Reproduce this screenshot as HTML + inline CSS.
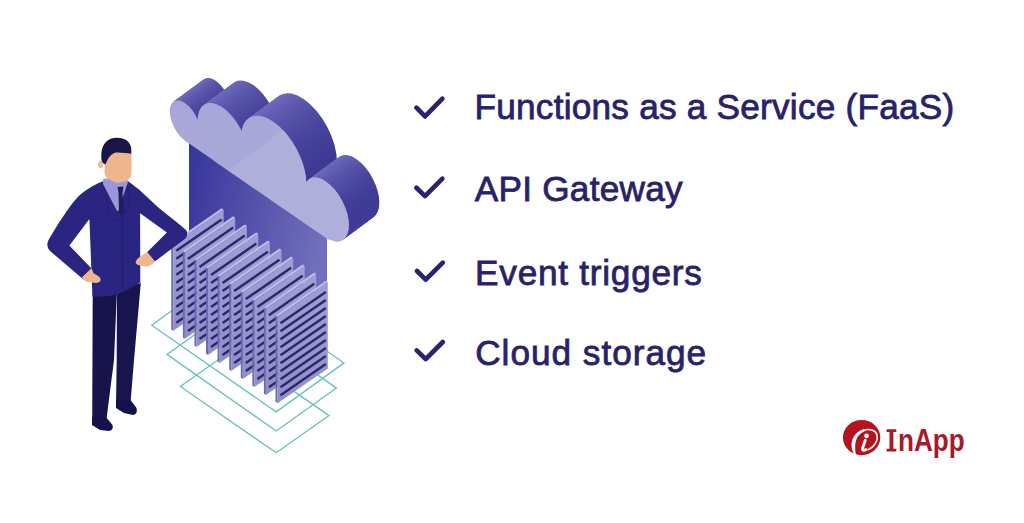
<!DOCTYPE html>
<html><head><meta charset="utf-8">
<style>
html,body{margin:0;padding:0;background:#fff;}
body{width:1024px;height:523px;overflow:hidden;position:relative;font-family:"Liberation Sans",sans-serif;}
.t{position:absolute;left:475px;font-weight:normal;font-size:35.2px;line-height:35px;color:#28226a;-webkit-text-stroke:0.8px #28226a;white-space:nowrap;}
#art{position:absolute;left:0;top:0;}
.logo{position:absolute;left:898.2px;top:425.3px;font-weight:bold;font-size:31.8px;line-height:31px;color:#a8192a;white-space:nowrap;transform-origin:0 0;transform:scaleX(0.82);}
</style></head><body>
<svg id="art" width="1024" height="523" viewBox="0 0 1024 523"><defs><linearGradient id="g1" gradientUnits="userSpaceOnUse" x1="-1.5" y1="0" x2="36.1" y2="0"><stop offset="0" stop-color="#7773c1"/><stop offset="0.45" stop-color="#5e5aaf"/><stop offset="1" stop-color="#3d3994"/></linearGradient><linearGradient id="g2" gradientUnits="userSpaceOnUse" x1="32.3" y1="0" x2="93.9" y2="0"><stop offset="0" stop-color="#7773c1"/><stop offset="0.45" stop-color="#5e5aaf"/><stop offset="1" stop-color="#3d3994"/></linearGradient><linearGradient id="g3" gradientUnits="userSpaceOnUse" x1="84.8" y1="0" x2="165.2" y2="0"><stop offset="0" stop-color="#7773c1"/><stop offset="0.45" stop-color="#5e5aaf"/><stop offset="1" stop-color="#3d3994"/></linearGradient><linearGradient id="g4" gradientUnits="userSpaceOnUse" x1="161.29999999999998" y1="0" x2="216.9" y2="0"><stop offset="0" stop-color="#7773c1"/><stop offset="0.45" stop-color="#5e5aaf"/><stop offset="1" stop-color="#3d3994"/></linearGradient><linearGradient id="stem" x1="0" y1="0" x2="1" y2="0.3"><stop offset="0" stop-color="#37349b"/><stop offset="1" stop-color="#716ebb"/></linearGradient><linearGradient id="slabg" x1="0" y1="0" x2="0" y2="1"><stop offset="0" stop-color="#a09ed5"/><stop offset="1" stop-color="#908ec9"/></linearGradient><clipPath id="crease"><polygon points="228.6,170.7 280.2,132 420,20 420,300 228.6,300"/></clipPath><clipPath id="tclip"><rect x="-20" y="-200" width="300" height="200"/></clipPath></defs><polygon points="151.7,325.3 276.2,411.9 344,362.9 219.5,276.3" fill="none" stroke="#66c4bd" stroke-width="1.35"/><polygon points="167,354.4 276.2,431 336.4,388.1 227.2,311.5" fill="none" stroke="#66c4bd" stroke-width="1.35"/><polygon points="180.4,386.5 276.2,452.8 329,415.6 233.2,349.3" fill="none" stroke="#66c4bd" stroke-width="1.35"/><polygon points="189,140 327,215 327,360 189,320" fill="url(#stem)"/><g transform="translate(30.50 -22.50) matrix(0.82 0.566 0 1 171 131)"><circle cx="17.3" cy="-18.8" r="18.8" fill="url(#g1)" clip-path="url(#tclip)"/><circle cx="63.1" cy="-28.4" r="30.8" fill="url(#g2)" clip-path="url(#tclip)"/><circle cx="125.0" cy="-39.9" r="40.2" fill="url(#g3)" clip-path="url(#tclip)"/><circle cx="189.1" cy="-28.6" r="27.8" fill="url(#g4)" clip-path="url(#tclip)"/><rect x="17.3" y="-26" width="175" height="26" fill="url(#g3)"/></g><g transform="translate(29.74 -21.94) matrix(0.82 0.566 0 1 171 131)"><circle cx="17.3" cy="-18.8" r="18.8" fill="url(#g1)" clip-path="url(#tclip)"/><circle cx="63.1" cy="-28.4" r="30.8" fill="url(#g2)" clip-path="url(#tclip)"/><circle cx="125.0" cy="-39.9" r="40.2" fill="url(#g3)" clip-path="url(#tclip)"/><circle cx="189.1" cy="-28.6" r="27.8" fill="url(#g4)" clip-path="url(#tclip)"/><rect x="17.3" y="-26" width="175" height="26" fill="url(#g3)"/></g><g transform="translate(28.98 -21.38) matrix(0.82 0.566 0 1 171 131)"><circle cx="17.3" cy="-18.8" r="18.8" fill="url(#g1)" clip-path="url(#tclip)"/><circle cx="63.1" cy="-28.4" r="30.8" fill="url(#g2)" clip-path="url(#tclip)"/><circle cx="125.0" cy="-39.9" r="40.2" fill="url(#g3)" clip-path="url(#tclip)"/><circle cx="189.1" cy="-28.6" r="27.8" fill="url(#g4)" clip-path="url(#tclip)"/><rect x="17.3" y="-26" width="175" height="26" fill="url(#g3)"/></g><g transform="translate(28.21 -20.81) matrix(0.82 0.566 0 1 171 131)"><circle cx="17.3" cy="-18.8" r="18.8" fill="url(#g1)" clip-path="url(#tclip)"/><circle cx="63.1" cy="-28.4" r="30.8" fill="url(#g2)" clip-path="url(#tclip)"/><circle cx="125.0" cy="-39.9" r="40.2" fill="url(#g3)" clip-path="url(#tclip)"/><circle cx="189.1" cy="-28.6" r="27.8" fill="url(#g4)" clip-path="url(#tclip)"/><rect x="17.3" y="-26" width="175" height="26" fill="url(#g3)"/></g><g transform="translate(27.45 -20.25) matrix(0.82 0.566 0 1 171 131)"><circle cx="17.3" cy="-18.8" r="18.8" fill="url(#g1)" clip-path="url(#tclip)"/><circle cx="63.1" cy="-28.4" r="30.8" fill="url(#g2)" clip-path="url(#tclip)"/><circle cx="125.0" cy="-39.9" r="40.2" fill="url(#g3)" clip-path="url(#tclip)"/><circle cx="189.1" cy="-28.6" r="27.8" fill="url(#g4)" clip-path="url(#tclip)"/><rect x="17.3" y="-26" width="175" height="26" fill="url(#g3)"/></g><g transform="translate(26.69 -19.69) matrix(0.82 0.566 0 1 171 131)"><circle cx="17.3" cy="-18.8" r="18.8" fill="url(#g1)" clip-path="url(#tclip)"/><circle cx="63.1" cy="-28.4" r="30.8" fill="url(#g2)" clip-path="url(#tclip)"/><circle cx="125.0" cy="-39.9" r="40.2" fill="url(#g3)" clip-path="url(#tclip)"/><circle cx="189.1" cy="-28.6" r="27.8" fill="url(#g4)" clip-path="url(#tclip)"/><rect x="17.3" y="-26" width="175" height="26" fill="url(#g3)"/></g><g transform="translate(25.93 -19.12) matrix(0.82 0.566 0 1 171 131)"><circle cx="17.3" cy="-18.8" r="18.8" fill="url(#g1)" clip-path="url(#tclip)"/><circle cx="63.1" cy="-28.4" r="30.8" fill="url(#g2)" clip-path="url(#tclip)"/><circle cx="125.0" cy="-39.9" r="40.2" fill="url(#g3)" clip-path="url(#tclip)"/><circle cx="189.1" cy="-28.6" r="27.8" fill="url(#g4)" clip-path="url(#tclip)"/><rect x="17.3" y="-26" width="175" height="26" fill="url(#g3)"/></g><g transform="translate(25.16 -18.56) matrix(0.82 0.566 0 1 171 131)"><circle cx="17.3" cy="-18.8" r="18.8" fill="url(#g1)" clip-path="url(#tclip)"/><circle cx="63.1" cy="-28.4" r="30.8" fill="url(#g2)" clip-path="url(#tclip)"/><circle cx="125.0" cy="-39.9" r="40.2" fill="url(#g3)" clip-path="url(#tclip)"/><circle cx="189.1" cy="-28.6" r="27.8" fill="url(#g4)" clip-path="url(#tclip)"/><rect x="17.3" y="-26" width="175" height="26" fill="url(#g3)"/></g><g transform="translate(24.40 -18.00) matrix(0.82 0.566 0 1 171 131)"><circle cx="17.3" cy="-18.8" r="18.8" fill="url(#g1)" clip-path="url(#tclip)"/><circle cx="63.1" cy="-28.4" r="30.8" fill="url(#g2)" clip-path="url(#tclip)"/><circle cx="125.0" cy="-39.9" r="40.2" fill="url(#g3)" clip-path="url(#tclip)"/><circle cx="189.1" cy="-28.6" r="27.8" fill="url(#g4)" clip-path="url(#tclip)"/><rect x="17.3" y="-26" width="175" height="26" fill="url(#g3)"/></g><g transform="translate(23.64 -17.44) matrix(0.82 0.566 0 1 171 131)"><circle cx="17.3" cy="-18.8" r="18.8" fill="url(#g1)" clip-path="url(#tclip)"/><circle cx="63.1" cy="-28.4" r="30.8" fill="url(#g2)" clip-path="url(#tclip)"/><circle cx="125.0" cy="-39.9" r="40.2" fill="url(#g3)" clip-path="url(#tclip)"/><circle cx="189.1" cy="-28.6" r="27.8" fill="url(#g4)" clip-path="url(#tclip)"/><rect x="17.3" y="-26" width="175" height="26" fill="url(#g3)"/></g><g transform="translate(22.88 -16.88) matrix(0.82 0.566 0 1 171 131)"><circle cx="17.3" cy="-18.8" r="18.8" fill="url(#g1)" clip-path="url(#tclip)"/><circle cx="63.1" cy="-28.4" r="30.8" fill="url(#g2)" clip-path="url(#tclip)"/><circle cx="125.0" cy="-39.9" r="40.2" fill="url(#g3)" clip-path="url(#tclip)"/><circle cx="189.1" cy="-28.6" r="27.8" fill="url(#g4)" clip-path="url(#tclip)"/><rect x="17.3" y="-26" width="175" height="26" fill="url(#g3)"/></g><g transform="translate(22.11 -16.31) matrix(0.82 0.566 0 1 171 131)"><circle cx="17.3" cy="-18.8" r="18.8" fill="url(#g1)" clip-path="url(#tclip)"/><circle cx="63.1" cy="-28.4" r="30.8" fill="url(#g2)" clip-path="url(#tclip)"/><circle cx="125.0" cy="-39.9" r="40.2" fill="url(#g3)" clip-path="url(#tclip)"/><circle cx="189.1" cy="-28.6" r="27.8" fill="url(#g4)" clip-path="url(#tclip)"/><rect x="17.3" y="-26" width="175" height="26" fill="url(#g3)"/></g><g transform="translate(21.35 -15.75) matrix(0.82 0.566 0 1 171 131)"><circle cx="17.3" cy="-18.8" r="18.8" fill="url(#g1)" clip-path="url(#tclip)"/><circle cx="63.1" cy="-28.4" r="30.8" fill="url(#g2)" clip-path="url(#tclip)"/><circle cx="125.0" cy="-39.9" r="40.2" fill="url(#g3)" clip-path="url(#tclip)"/><circle cx="189.1" cy="-28.6" r="27.8" fill="url(#g4)" clip-path="url(#tclip)"/><rect x="17.3" y="-26" width="175" height="26" fill="url(#g3)"/></g><g transform="translate(20.59 -15.19) matrix(0.82 0.566 0 1 171 131)"><circle cx="17.3" cy="-18.8" r="18.8" fill="url(#g1)" clip-path="url(#tclip)"/><circle cx="63.1" cy="-28.4" r="30.8" fill="url(#g2)" clip-path="url(#tclip)"/><circle cx="125.0" cy="-39.9" r="40.2" fill="url(#g3)" clip-path="url(#tclip)"/><circle cx="189.1" cy="-28.6" r="27.8" fill="url(#g4)" clip-path="url(#tclip)"/><rect x="17.3" y="-26" width="175" height="26" fill="url(#g3)"/></g><g transform="translate(19.82 -14.62) matrix(0.82 0.566 0 1 171 131)"><circle cx="17.3" cy="-18.8" r="18.8" fill="url(#g1)" clip-path="url(#tclip)"/><circle cx="63.1" cy="-28.4" r="30.8" fill="url(#g2)" clip-path="url(#tclip)"/><circle cx="125.0" cy="-39.9" r="40.2" fill="url(#g3)" clip-path="url(#tclip)"/><circle cx="189.1" cy="-28.6" r="27.8" fill="url(#g4)" clip-path="url(#tclip)"/><rect x="17.3" y="-26" width="175" height="26" fill="url(#g3)"/></g><g transform="translate(19.06 -14.06) matrix(0.82 0.566 0 1 171 131)"><circle cx="17.3" cy="-18.8" r="18.8" fill="url(#g1)" clip-path="url(#tclip)"/><circle cx="63.1" cy="-28.4" r="30.8" fill="url(#g2)" clip-path="url(#tclip)"/><circle cx="125.0" cy="-39.9" r="40.2" fill="url(#g3)" clip-path="url(#tclip)"/><circle cx="189.1" cy="-28.6" r="27.8" fill="url(#g4)" clip-path="url(#tclip)"/><rect x="17.3" y="-26" width="175" height="26" fill="url(#g3)"/></g><g transform="translate(18.30 -13.50) matrix(0.82 0.566 0 1 171 131)"><circle cx="17.3" cy="-18.8" r="18.8" fill="url(#g1)" clip-path="url(#tclip)"/><circle cx="63.1" cy="-28.4" r="30.8" fill="url(#g2)" clip-path="url(#tclip)"/><circle cx="125.0" cy="-39.9" r="40.2" fill="url(#g3)" clip-path="url(#tclip)"/><circle cx="189.1" cy="-28.6" r="27.8" fill="url(#g4)" clip-path="url(#tclip)"/><rect x="17.3" y="-26" width="175" height="26" fill="url(#g3)"/></g><g transform="translate(17.54 -12.94) matrix(0.82 0.566 0 1 171 131)"><circle cx="17.3" cy="-18.8" r="18.8" fill="url(#g1)" clip-path="url(#tclip)"/><circle cx="63.1" cy="-28.4" r="30.8" fill="url(#g2)" clip-path="url(#tclip)"/><circle cx="125.0" cy="-39.9" r="40.2" fill="url(#g3)" clip-path="url(#tclip)"/><circle cx="189.1" cy="-28.6" r="27.8" fill="url(#g4)" clip-path="url(#tclip)"/><rect x="17.3" y="-26" width="175" height="26" fill="url(#g3)"/></g><g transform="translate(16.77 -12.38) matrix(0.82 0.566 0 1 171 131)"><circle cx="17.3" cy="-18.8" r="18.8" fill="url(#g1)" clip-path="url(#tclip)"/><circle cx="63.1" cy="-28.4" r="30.8" fill="url(#g2)" clip-path="url(#tclip)"/><circle cx="125.0" cy="-39.9" r="40.2" fill="url(#g3)" clip-path="url(#tclip)"/><circle cx="189.1" cy="-28.6" r="27.8" fill="url(#g4)" clip-path="url(#tclip)"/><rect x="17.3" y="-26" width="175" height="26" fill="url(#g3)"/></g><g transform="translate(16.01 -11.81) matrix(0.82 0.566 0 1 171 131)"><circle cx="17.3" cy="-18.8" r="18.8" fill="url(#g1)" clip-path="url(#tclip)"/><circle cx="63.1" cy="-28.4" r="30.8" fill="url(#g2)" clip-path="url(#tclip)"/><circle cx="125.0" cy="-39.9" r="40.2" fill="url(#g3)" clip-path="url(#tclip)"/><circle cx="189.1" cy="-28.6" r="27.8" fill="url(#g4)" clip-path="url(#tclip)"/><rect x="17.3" y="-26" width="175" height="26" fill="url(#g3)"/></g><g transform="translate(15.25 -11.25) matrix(0.82 0.566 0 1 171 131)"><circle cx="17.3" cy="-18.8" r="18.8" fill="url(#g1)" clip-path="url(#tclip)"/><circle cx="63.1" cy="-28.4" r="30.8" fill="url(#g2)" clip-path="url(#tclip)"/><circle cx="125.0" cy="-39.9" r="40.2" fill="url(#g3)" clip-path="url(#tclip)"/><circle cx="189.1" cy="-28.6" r="27.8" fill="url(#g4)" clip-path="url(#tclip)"/><rect x="17.3" y="-26" width="175" height="26" fill="url(#g3)"/></g><g transform="translate(14.49 -10.69) matrix(0.82 0.566 0 1 171 131)"><circle cx="17.3" cy="-18.8" r="18.8" fill="url(#g1)" clip-path="url(#tclip)"/><circle cx="63.1" cy="-28.4" r="30.8" fill="url(#g2)" clip-path="url(#tclip)"/><circle cx="125.0" cy="-39.9" r="40.2" fill="url(#g3)" clip-path="url(#tclip)"/><circle cx="189.1" cy="-28.6" r="27.8" fill="url(#g4)" clip-path="url(#tclip)"/><rect x="17.3" y="-26" width="175" height="26" fill="url(#g3)"/></g><g transform="translate(13.72 -10.12) matrix(0.82 0.566 0 1 171 131)"><circle cx="17.3" cy="-18.8" r="18.8" fill="url(#g1)" clip-path="url(#tclip)"/><circle cx="63.1" cy="-28.4" r="30.8" fill="url(#g2)" clip-path="url(#tclip)"/><circle cx="125.0" cy="-39.9" r="40.2" fill="url(#g3)" clip-path="url(#tclip)"/><circle cx="189.1" cy="-28.6" r="27.8" fill="url(#g4)" clip-path="url(#tclip)"/><rect x="17.3" y="-26" width="175" height="26" fill="url(#g3)"/></g><g transform="translate(12.96 -9.56) matrix(0.82 0.566 0 1 171 131)"><circle cx="17.3" cy="-18.8" r="18.8" fill="url(#g1)" clip-path="url(#tclip)"/><circle cx="63.1" cy="-28.4" r="30.8" fill="url(#g2)" clip-path="url(#tclip)"/><circle cx="125.0" cy="-39.9" r="40.2" fill="url(#g3)" clip-path="url(#tclip)"/><circle cx="189.1" cy="-28.6" r="27.8" fill="url(#g4)" clip-path="url(#tclip)"/><rect x="17.3" y="-26" width="175" height="26" fill="url(#g3)"/></g><g transform="translate(12.20 -9.00) matrix(0.82 0.566 0 1 171 131)"><circle cx="17.3" cy="-18.8" r="18.8" fill="url(#g1)" clip-path="url(#tclip)"/><circle cx="63.1" cy="-28.4" r="30.8" fill="url(#g2)" clip-path="url(#tclip)"/><circle cx="125.0" cy="-39.9" r="40.2" fill="url(#g3)" clip-path="url(#tclip)"/><circle cx="189.1" cy="-28.6" r="27.8" fill="url(#g4)" clip-path="url(#tclip)"/><rect x="17.3" y="-26" width="175" height="26" fill="url(#g3)"/></g><g transform="translate(11.44 -8.44) matrix(0.82 0.566 0 1 171 131)"><circle cx="17.3" cy="-18.8" r="18.8" fill="url(#g1)" clip-path="url(#tclip)"/><circle cx="63.1" cy="-28.4" r="30.8" fill="url(#g2)" clip-path="url(#tclip)"/><circle cx="125.0" cy="-39.9" r="40.2" fill="url(#g3)" clip-path="url(#tclip)"/><circle cx="189.1" cy="-28.6" r="27.8" fill="url(#g4)" clip-path="url(#tclip)"/><rect x="17.3" y="-26" width="175" height="26" fill="url(#g3)"/></g><g transform="translate(10.68 -7.88) matrix(0.82 0.566 0 1 171 131)"><circle cx="17.3" cy="-18.8" r="18.8" fill="url(#g1)" clip-path="url(#tclip)"/><circle cx="63.1" cy="-28.4" r="30.8" fill="url(#g2)" clip-path="url(#tclip)"/><circle cx="125.0" cy="-39.9" r="40.2" fill="url(#g3)" clip-path="url(#tclip)"/><circle cx="189.1" cy="-28.6" r="27.8" fill="url(#g4)" clip-path="url(#tclip)"/><rect x="17.3" y="-26" width="175" height="26" fill="url(#g3)"/></g><g transform="translate(9.91 -7.31) matrix(0.82 0.566 0 1 171 131)"><circle cx="17.3" cy="-18.8" r="18.8" fill="url(#g1)" clip-path="url(#tclip)"/><circle cx="63.1" cy="-28.4" r="30.8" fill="url(#g2)" clip-path="url(#tclip)"/><circle cx="125.0" cy="-39.9" r="40.2" fill="url(#g3)" clip-path="url(#tclip)"/><circle cx="189.1" cy="-28.6" r="27.8" fill="url(#g4)" clip-path="url(#tclip)"/><rect x="17.3" y="-26" width="175" height="26" fill="url(#g3)"/></g><g transform="translate(9.15 -6.75) matrix(0.82 0.566 0 1 171 131)"><circle cx="17.3" cy="-18.8" r="18.8" fill="url(#g1)" clip-path="url(#tclip)"/><circle cx="63.1" cy="-28.4" r="30.8" fill="url(#g2)" clip-path="url(#tclip)"/><circle cx="125.0" cy="-39.9" r="40.2" fill="url(#g3)" clip-path="url(#tclip)"/><circle cx="189.1" cy="-28.6" r="27.8" fill="url(#g4)" clip-path="url(#tclip)"/><rect x="17.3" y="-26" width="175" height="26" fill="url(#g3)"/></g><g transform="translate(8.39 -6.19) matrix(0.82 0.566 0 1 171 131)"><circle cx="17.3" cy="-18.8" r="18.8" fill="url(#g1)" clip-path="url(#tclip)"/><circle cx="63.1" cy="-28.4" r="30.8" fill="url(#g2)" clip-path="url(#tclip)"/><circle cx="125.0" cy="-39.9" r="40.2" fill="url(#g3)" clip-path="url(#tclip)"/><circle cx="189.1" cy="-28.6" r="27.8" fill="url(#g4)" clip-path="url(#tclip)"/><rect x="17.3" y="-26" width="175" height="26" fill="url(#g3)"/></g><g transform="translate(7.62 -5.62) matrix(0.82 0.566 0 1 171 131)"><circle cx="17.3" cy="-18.8" r="18.8" fill="url(#g1)" clip-path="url(#tclip)"/><circle cx="63.1" cy="-28.4" r="30.8" fill="url(#g2)" clip-path="url(#tclip)"/><circle cx="125.0" cy="-39.9" r="40.2" fill="url(#g3)" clip-path="url(#tclip)"/><circle cx="189.1" cy="-28.6" r="27.8" fill="url(#g4)" clip-path="url(#tclip)"/><rect x="17.3" y="-26" width="175" height="26" fill="url(#g3)"/></g><g transform="translate(6.86 -5.06) matrix(0.82 0.566 0 1 171 131)"><circle cx="17.3" cy="-18.8" r="18.8" fill="url(#g1)" clip-path="url(#tclip)"/><circle cx="63.1" cy="-28.4" r="30.8" fill="url(#g2)" clip-path="url(#tclip)"/><circle cx="125.0" cy="-39.9" r="40.2" fill="url(#g3)" clip-path="url(#tclip)"/><circle cx="189.1" cy="-28.6" r="27.8" fill="url(#g4)" clip-path="url(#tclip)"/><rect x="17.3" y="-26" width="175" height="26" fill="url(#g3)"/></g><g transform="translate(6.10 -4.50) matrix(0.82 0.566 0 1 171 131)"><circle cx="17.3" cy="-18.8" r="18.8" fill="url(#g1)" clip-path="url(#tclip)"/><circle cx="63.1" cy="-28.4" r="30.8" fill="url(#g2)" clip-path="url(#tclip)"/><circle cx="125.0" cy="-39.9" r="40.2" fill="url(#g3)" clip-path="url(#tclip)"/><circle cx="189.1" cy="-28.6" r="27.8" fill="url(#g4)" clip-path="url(#tclip)"/><rect x="17.3" y="-26" width="175" height="26" fill="url(#g3)"/></g><g transform="translate(5.34 -3.94) matrix(0.82 0.566 0 1 171 131)"><circle cx="17.3" cy="-18.8" r="18.8" fill="url(#g1)" clip-path="url(#tclip)"/><circle cx="63.1" cy="-28.4" r="30.8" fill="url(#g2)" clip-path="url(#tclip)"/><circle cx="125.0" cy="-39.9" r="40.2" fill="url(#g3)" clip-path="url(#tclip)"/><circle cx="189.1" cy="-28.6" r="27.8" fill="url(#g4)" clip-path="url(#tclip)"/><rect x="17.3" y="-26" width="175" height="26" fill="url(#g3)"/></g><g transform="translate(4.58 -3.38) matrix(0.82 0.566 0 1 171 131)"><circle cx="17.3" cy="-18.8" r="18.8" fill="url(#g1)" clip-path="url(#tclip)"/><circle cx="63.1" cy="-28.4" r="30.8" fill="url(#g2)" clip-path="url(#tclip)"/><circle cx="125.0" cy="-39.9" r="40.2" fill="url(#g3)" clip-path="url(#tclip)"/><circle cx="189.1" cy="-28.6" r="27.8" fill="url(#g4)" clip-path="url(#tclip)"/><rect x="17.3" y="-26" width="175" height="26" fill="url(#g3)"/></g><g transform="translate(3.81 -2.81) matrix(0.82 0.566 0 1 171 131)"><circle cx="17.3" cy="-18.8" r="18.8" fill="url(#g1)" clip-path="url(#tclip)"/><circle cx="63.1" cy="-28.4" r="30.8" fill="url(#g2)" clip-path="url(#tclip)"/><circle cx="125.0" cy="-39.9" r="40.2" fill="url(#g3)" clip-path="url(#tclip)"/><circle cx="189.1" cy="-28.6" r="27.8" fill="url(#g4)" clip-path="url(#tclip)"/><rect x="17.3" y="-26" width="175" height="26" fill="url(#g3)"/></g><g transform="translate(3.05 -2.25) matrix(0.82 0.566 0 1 171 131)"><circle cx="17.3" cy="-18.8" r="18.8" fill="url(#g1)" clip-path="url(#tclip)"/><circle cx="63.1" cy="-28.4" r="30.8" fill="url(#g2)" clip-path="url(#tclip)"/><circle cx="125.0" cy="-39.9" r="40.2" fill="url(#g3)" clip-path="url(#tclip)"/><circle cx="189.1" cy="-28.6" r="27.8" fill="url(#g4)" clip-path="url(#tclip)"/><rect x="17.3" y="-26" width="175" height="26" fill="url(#g3)"/></g><g transform="translate(2.29 -1.69) matrix(0.82 0.566 0 1 171 131)"><circle cx="17.3" cy="-18.8" r="18.8" fill="url(#g1)" clip-path="url(#tclip)"/><circle cx="63.1" cy="-28.4" r="30.8" fill="url(#g2)" clip-path="url(#tclip)"/><circle cx="125.0" cy="-39.9" r="40.2" fill="url(#g3)" clip-path="url(#tclip)"/><circle cx="189.1" cy="-28.6" r="27.8" fill="url(#g4)" clip-path="url(#tclip)"/><rect x="17.3" y="-26" width="175" height="26" fill="url(#g3)"/></g><g transform="translate(1.52 -1.12) matrix(0.82 0.566 0 1 171 131)"><circle cx="17.3" cy="-18.8" r="18.8" fill="url(#g1)" clip-path="url(#tclip)"/><circle cx="63.1" cy="-28.4" r="30.8" fill="url(#g2)" clip-path="url(#tclip)"/><circle cx="125.0" cy="-39.9" r="40.2" fill="url(#g3)" clip-path="url(#tclip)"/><circle cx="189.1" cy="-28.6" r="27.8" fill="url(#g4)" clip-path="url(#tclip)"/><rect x="17.3" y="-26" width="175" height="26" fill="url(#g3)"/></g><g transform="translate(0.76 -0.56) matrix(0.82 0.566 0 1 171 131)"><circle cx="17.3" cy="-18.8" r="18.8" fill="url(#g1)" clip-path="url(#tclip)"/><circle cx="63.1" cy="-28.4" r="30.8" fill="url(#g2)" clip-path="url(#tclip)"/><circle cx="125.0" cy="-39.9" r="40.2" fill="url(#g3)" clip-path="url(#tclip)"/><circle cx="189.1" cy="-28.6" r="27.8" fill="url(#g4)" clip-path="url(#tclip)"/><rect x="17.3" y="-26" width="175" height="26" fill="url(#g3)"/></g><g transform="matrix(0.82 0.566 0 1 171 131)"><circle cx="17.3" cy="-18.8" r="18.8" fill="#a9a7d7" clip-path="url(#tclip)"/><circle cx="63.1" cy="-28.4" r="30.8" fill="#a9a7d7" clip-path="url(#tclip)"/><circle cx="125.0" cy="-39.9" r="40.2" fill="#a9a7d7" clip-path="url(#tclip)"/><circle cx="189.1" cy="-28.6" r="27.8" fill="#a9a7d7" clip-path="url(#tclip)"/><rect x="17.3" y="-26" width="175" height="26" fill="#a9a7d7"/></g><g clip-path="url(#crease)"><g transform="matrix(0.82 0.566 0 1 171 131)"><circle cx="17.3" cy="-18.8" r="18.8" fill="#b0aedb" clip-path="url(#tclip)"/><circle cx="63.1" cy="-28.4" r="30.8" fill="#b0aedb" clip-path="url(#tclip)"/><circle cx="125.0" cy="-39.9" r="40.2" fill="#b0aedb" clip-path="url(#tclip)"/><circle cx="189.1" cy="-28.6" r="27.8" fill="#b0aedb" clip-path="url(#tclip)"/><rect x="17.3" y="-26" width="175" height="26" fill="#b0aedb"/></g></g><polygon points="171.3,243.1 173.3,244.5 173.3,330.8 171.3,329.4" fill="#6c69b4"/><polygon points="171.3,243.1 221.6,208.3 223.6,209.7 173.3,244.5" fill="#bdbbe7"/><polygon points="173.3,244.5 223.6,209.7 223.6,296.0 173.3,330.8" fill="url(#slabg)"/><path d="M176.3 250.8L221.6 219.5M176.3 258.8L221.6 227.5M176.3 266.8L221.6 235.5M176.3 274.8L221.6 243.5M176.3 282.8L221.6 251.5M176.3 290.8L221.6 259.5M176.3 298.8L221.6 267.5M176.3 306.8L221.6 275.5M176.3 314.8L221.6 283.5M176.3 322.8L221.6 291.5" stroke="#2b2869" stroke-width="2.4" fill="none"/><polygon points="182.9,251.1 184.9,252.5 184.9,338.8 182.9,337.4" fill="#6c69b4"/><polygon points="182.9,251.1 233.2,216.3 235.2,217.7 184.9,252.5" fill="#bdbbe7"/><polygon points="184.9,252.5 235.2,217.7 235.2,304.0 184.9,338.8" fill="url(#slabg)"/><path d="M187.9 258.9L233.2 227.5M187.9 266.9L233.2 235.5M187.9 274.9L233.2 243.5M187.9 282.9L233.2 251.5M187.9 290.9L233.2 259.5M187.9 298.9L233.2 267.5M187.9 306.9L233.2 275.5M187.9 314.9L233.2 283.5M187.9 322.9L233.2 291.5M187.9 330.9L233.2 299.5" stroke="#2b2869" stroke-width="2.4" fill="none"/><polygon points="194.5,259.2 196.5,260.6 196.5,346.9 194.5,345.5" fill="#6c69b4"/><polygon points="194.5,259.2 244.8,224.4 246.8,225.8 196.5,260.6" fill="#bdbbe7"/><polygon points="196.5,260.6 246.8,225.8 246.8,312.1 196.5,346.9" fill="url(#slabg)"/><path d="M199.5 266.9L244.8 235.6M199.5 274.9L244.8 243.6M199.5 282.9L244.8 251.6M199.5 290.9L244.8 259.6M199.5 298.9L244.8 267.6M199.5 306.9L244.8 275.6M199.5 314.9L244.8 283.6M199.5 322.9L244.8 291.6M199.5 330.9L244.8 299.6M199.5 338.9L244.8 307.6" stroke="#2b2869" stroke-width="2.4" fill="none"/><polygon points="206.0,267.2 208.0,268.6 208.0,354.9 206.0,353.5" fill="#6c69b4"/><polygon points="206.0,267.2 256.3,232.4 258.3,233.8 208.0,268.6" fill="#bdbbe7"/><polygon points="208.0,268.6 258.3,233.8 258.3,320.1 208.0,354.9" fill="url(#slabg)"/><path d="M211.0 275.0L256.3 243.6M211.0 283.0L256.3 251.6M211.0 291.0L256.3 259.6M211.0 299.0L256.3 267.6M211.0 307.0L256.3 275.6M211.0 315.0L256.3 283.6M211.0 323.0L256.3 291.6M211.0 331.0L256.3 299.6M211.0 339.0L256.3 307.6M211.0 347.0L256.3 315.6" stroke="#2b2869" stroke-width="2.4" fill="none"/><polygon points="217.6,275.3 219.6,276.7 219.6,363.0 217.6,361.6" fill="#6c69b4"/><polygon points="217.6,275.3 267.9,240.5 269.9,241.9 219.6,276.7" fill="#bdbbe7"/><polygon points="219.6,276.7 269.9,241.9 269.9,328.2 219.6,363.0" fill="url(#slabg)"/><path d="M222.6 283.0L267.9 251.7M222.6 291.0L267.9 259.7M222.6 299.0L267.9 267.7M222.6 307.0L267.9 275.7M222.6 315.0L267.9 283.7M222.6 323.0L267.9 291.7M222.6 331.0L267.9 299.7M222.6 339.0L267.9 307.7M222.6 347.0L267.9 315.7M222.6 355.0L267.9 323.7" stroke="#2b2869" stroke-width="2.4" fill="none"/><polygon points="229.2,283.3 231.2,284.7 231.2,371.0 229.2,369.6" fill="#6c69b4"/><polygon points="229.2,283.3 279.5,248.5 281.5,249.9 231.2,284.7" fill="#bdbbe7"/><polygon points="231.2,284.7 281.5,249.9 281.5,336.2 231.2,371.0" fill="url(#slabg)"/><path d="M234.2 291.0L279.5 259.7M234.2 299.0L279.5 267.7M234.2 307.0L279.5 275.7M234.2 315.0L279.5 283.7M234.2 323.0L279.5 291.7M234.2 331.0L279.5 299.7M234.2 339.0L279.5 307.7M234.2 347.0L279.5 315.7M234.2 355.0L279.5 323.7M234.2 363.0L279.5 331.7" stroke="#2b2869" stroke-width="2.4" fill="none"/><polygon points="240.8,291.3 242.8,292.7 242.8,379.0 240.8,377.6" fill="#6c69b4"/><polygon points="240.8,291.3 291.1,256.5 293.1,257.9 242.8,292.7" fill="#bdbbe7"/><polygon points="242.8,292.7 293.1,257.9 293.1,344.2 242.8,379.0" fill="url(#slabg)"/><path d="M245.8 299.1L291.1 267.7M245.8 307.1L291.1 275.7M245.8 315.1L291.1 283.7M245.8 323.1L291.1 291.7M245.8 331.1L291.1 299.7M245.8 339.1L291.1 307.7M245.8 347.1L291.1 315.7M245.8 355.1L291.1 323.7M245.8 363.1L291.1 331.7M245.8 371.1L291.1 339.7" stroke="#2b2869" stroke-width="2.4" fill="none"/><polygon points="252.4,299.4 254.4,300.8 254.4,387.1 252.4,385.7" fill="#6c69b4"/><polygon points="252.4,299.4 302.7,264.6 304.7,266.0 254.4,300.8" fill="#bdbbe7"/><polygon points="254.4,300.8 304.7,266.0 304.7,352.3 254.4,387.1" fill="url(#slabg)"/><path d="M257.4 307.1L302.7 275.8M257.4 315.1L302.7 283.8M257.4 323.1L302.7 291.8M257.4 331.1L302.7 299.8M257.4 339.1L302.7 307.8M257.4 347.1L302.7 315.8M257.4 355.1L302.7 323.8M257.4 363.1L302.7 331.8M257.4 371.1L302.7 339.8M257.4 379.1L302.7 347.8" stroke="#2b2869" stroke-width="2.4" fill="none"/><polygon points="263.9,307.4 265.9,308.8 265.9,395.1 263.9,393.7" fill="#6c69b4"/><polygon points="263.9,307.4 314.2,272.6 316.2,274.0 265.9,308.8" fill="#bdbbe7"/><polygon points="265.9,308.8 316.2,274.0 316.2,360.3 265.9,395.1" fill="url(#slabg)"/><path d="M268.9 315.2L314.2 283.8M268.9 323.2L314.2 291.8M268.9 331.2L314.2 299.8M268.9 339.2L314.2 307.8M268.9 347.2L314.2 315.8M268.9 355.2L314.2 323.8M268.9 363.2L314.2 331.8M268.9 371.2L314.2 339.8M268.9 379.2L314.2 347.8M268.9 387.2L314.2 355.8" stroke="#2b2869" stroke-width="2.4" fill="none"/><polygon points="275.5,315.5 277.5,316.9 277.5,403.2 275.5,401.8" fill="#6c69b4"/><polygon points="275.5,315.5 325.8,280.7 327.8,282.1 277.5,316.9" fill="#bdbbe7"/><polygon points="277.5,316.9 327.8,282.1 327.8,368.4 277.5,403.2" fill="url(#slabg)"/><path d="M280.5 323.2L325.8 291.9M280.5 331.2L325.8 299.9M280.5 339.2L325.8 307.9M280.5 347.2L325.8 315.9M280.5 355.2L325.8 323.9M280.5 363.2L325.8 331.9M280.5 371.2L325.8 339.9M280.5 379.2L325.8 347.9M280.5 387.2L325.8 355.9M280.5 395.2L325.8 363.9" stroke="#2b2869" stroke-width="2.4" fill="none"/>
<path d="M92.7,294 L117,290 L114,360 L106.5,419 L92.2,421 Z" fill="#17134b"/>
<path d="M117,290 L140.8,283 L134,360 L130.5,403 L116,404.4 L116.7,360 Z" fill="#18144d"/>
<path d="M92,417 L106,417 L112.5,425 Q114,430 109,431 L100,430 L92,425 Z" fill="#15114a"/>
<path d="M116,400 L130.5,400 L136.5,408 Q138,414 133,415 L124,413 L116,408 Z" fill="#15114a"/>
<path d="M103.4,181 L118,211 L126.5,180.5 L128.5,181.5 C131,183 135,186.5 139,189.5 L158.3,207.5 L177.4,222.8 L185.5,229.5 Q189,233.5 185.5,238.5 L154.8,261.4 L147.1,252.2 L166.9,232.4 L140.1,213.3 L140.3,282.4 Q129,289.5 117,294.5 Q105,297.5 92.4,296.5 L91,260 L89.4,219 L69.4,245.5 L91.5,268.5 L83.5,279.5 L50,251 Q45.5,247 48.5,240 C58,224 68,208 76,199 C84,190 94,185 103.4,181 Z" fill="#2b2582"/>
<path d="M104.2,185.3 L108.8,216.3 Q112,219.5 118,219.7 M127,184.2 L129.6,202.5 L122.5,218.6 M122,219 L122.8,289" fill="none" stroke="#231e74" stroke-width="1"/>
<path d="M91.4,268.2 L81.8,277.4 Q84.5,281.5 89,282.2 L96.5,282.9 Q100.8,282.6 100.7,279.6 Q100.3,276.6 96.5,275 L93.6,273.2 Z" fill="#efb58d"/>
<path d="M147.1,252.2 L154.8,261.4 Q151,266.5 146,266.4 L138,265 Q135,263.5 135.8,261.5 Q137,258.5 141,256 Z" fill="#efb58d"/>
<path d="M103,179 L127,176.5 L128,182 L118,211 L117,211 L103,184 Z" fill="#9a98d8"/>
<path d="M117.5,187 L123.5,186.5 L122.5,193 L124,212 L121.5,216 L119,212 L118.5,193 Z" fill="#221d62"/>
<ellipse cx="100.6" cy="164.4" rx="2.4" ry="3.8" fill="#f0bc98"/>
<path d="M104.6,160 L104.6,173 C105.2,177 107.5,178.5 110,180 L117,183 L126,181 C129,180 131.5,177 131.5,172 L131.5,152.8 C126,152.3 120,152 116,152.3 C111,153 106.5,156.5 104.6,160 Z" fill="#efb58d"/>
<path d="M101.3,158 C100.8,147 105,138.3 116,137.8 C126,137.3 131.5,143 131.3,150 L131.3,153.8 C127,153.2 122,152.4 116,152.5 C111.5,153.3 108,157.5 105.5,164.6 L103.5,163.5 C102,162 101.3,160 101.3,158 Z" fill="#1a1548"/>
<g fill="none" stroke="#2a2470" stroke-width="4.7" stroke-linecap="round" stroke-linejoin="round"><path d="M416.4 107.7 L425.05 116.4 L442.4 98.7"/><path d="M416.4 187.7 L425 196.1 L442.4 178.7"/><path d="M417 271 L425.7 279.7 L442.8 262.7"/><path d="M416.7 350.4 L425.7 359.1 L442.8 342"/></g><g>
<ellipse cx="861.6" cy="437.6" rx="18.7" ry="17.6" fill="#b3141f"/>
<path d="M856.5,457.3 C851.5,452 850.5,445 852.5,439.5 C854.5,434 859,430.5 864,429.3 L864.8,431.3 C860.5,432.8 857.3,436 856,440.5 C854.6,445.5 855,451 856.5,457.3 Z" fill="#fff"/>
<path d="M863.5,430.2 C869.5,428.3 875.5,430 877,435 C878.3,440 875,446.5 868,449.8" fill="none" stroke="#fff" stroke-width="1.5" stroke-linecap="round"/>
<circle cx="866.5" cy="435.8" r="2.4" fill="#fff"/>
<path d="M865.3,440.3 L862.6,448.3 Q862,450.6 864.5,450.2 L866,449.6" fill="none" stroke="#fff" stroke-width="2.8" stroke-linecap="round" stroke-linejoin="round"/>
<path d="M886.6,429.2 H896.3 V432 H893.4 V448.8 H896.3 V451.6 H886.6 V448.8 H889.5 V432 H886.6 Z" fill="#a8192a"/>
</g></svg>
<div class="t" style="top:89px;left:474.5px;letter-spacing:0.232px">Functions as a Service (FaaS)</div>
<div class="t" style="top:171px;left:474.7px;letter-spacing:0.26px">API Gateway</div>
<div class="t" style="top:255px;left:475.1px;letter-spacing:0.746px">Event triggers</div>
<div class="t" style="top:334.7px;left:475.2px;letter-spacing:0.983px">Cloud storage</div>
<div class="logo">nApp</div>
</body></html>
